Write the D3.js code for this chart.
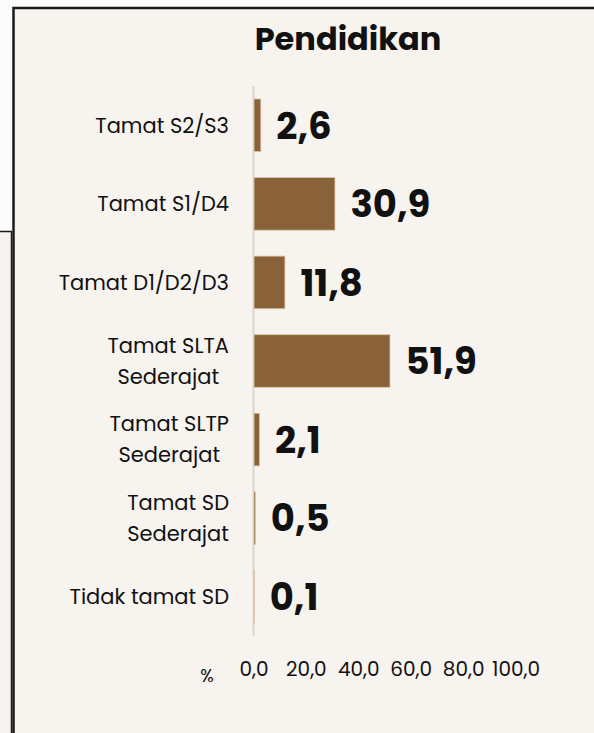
<!DOCTYPE html>
<html>
<head>
<meta charset="utf-8">
<script src="https://cdn.jsdelivr.net/npm/d3@7"></script>
<style>
  html, body { margin: 0; padding: 0; background: #fbfbfb; }
  svg { display: block; }
  text { font-family: Poppins, Inter, 'Noto Sans', sans-serif; fill: #111; }
</style>
</head>
<body>
<svg id="chart"></svg>
<script>
const WIDTH = 594;
const HEIGHT = 733;

const categories = [
  'Tamat S2/S3',
  'Tamat S1/D4',
  'Tamat D1/D2/D3',
  'Tamat SLTA\nSederajat',
  'Tamat SLTP\nSederajat',
  'Tamat SD\nSederajat',
  'Tidak tamat SD'
];
const values = [2.6, 30.9, 11.8, 51.9, 2.1, 0.5, 0.1];
const tickValues = [0, 20, 40, 60, 80, 100];

const fmt = v => d3.format('.1f')(v).replace('.', ',');

const svg = d3.select('#chart')
  .attr('width', WIDTH)
  .attr('height', HEIGHT);

// box peeking out behind the panel
svg.append('rect')
  .attr('x', -10).attr('y', 231.5)
  .attr('width', 21.5).attr('height', 600)
  .attr('fill', '#f7f3ef')
  .attr('stroke', '#1a1a1a').attr('stroke-width', 1.5);

// main panel
svg.append('rect')
  .attr('x', 13.5).attr('y', 8)
  .attr('width', 700).attr('height', 800)
  .attr('fill', '#f7f3ef')
  .attr('stroke', '#1a1a1a').attr('stroke-width', 2.5);

svg.append('text')
  .attr('x', 348).attr('y', 50)
  .attr('text-anchor', 'middle')
  .style('font-size', '32px')
  .style('font-weight', 700)
  .text('Pendidikan');

const x = d3.scaleLinear().domain([0, 100]).range([253.5, 515.5]);
const y = d3.scaleBand().domain(categories).range([86, 636])
  .paddingInner(0.33).paddingOuter(0.165);

// vertical axis line
svg.append('line')
  .attr('x1', x(0)).attr('x2', x(0))
  .attr('y1', 86).attr('y2', 636)
  .attr('stroke', '#d9d6d2').attr('stroke-width', 2);

svg.selectAll('.bar')
  .data(values)
  .join('rect')
  .attr('class', 'bar')
  .attr('x', x(0) + 0.5)
  .attr('y', (d, i) => y(categories[i]))
  .attr('width', d => x(d) - x(0))
  .attr('height', y.bandwidth())
  .attr('fill', '#8a6239')
  .attr('stroke', '#dcc6a8')
  .attr('stroke-width', 0.8);

svg.selectAll('.value')
  .data(values)
  .join('text')
  .attr('class', 'value')
  .attr('x', d => x(d) + 16)
  .attr('y', (d, i) => y(categories[i]) + y.bandwidth() / 2)
  .attr('dy', '0.36em')
  .style('font-size', '37px')
  .style('font-weight', 700)
  .text(fmt);

// category labels, lines centred on each other, block right-aligned
const labelRight = 229;
categories.forEach(cat => {
  const lines = cat.split('\n');
  const cy = y(cat) + y.bandwidth() / 2;
  const g = svg.append('g');
  const lh = 31;
  const texts = lines.map((ln, j) =>
    g.append('text')
      .attr('y', cy + (j - (lines.length - 1) / 2) * lh)
      .attr('dy', '0.35em')
      .attr('text-anchor', 'middle')
      .style('font-size', '21px')
      .text(ln));
  const maxW = d3.max(texts, t => t.node().getComputedTextLength());
  texts.forEach(t => t.attr('x', labelRight - maxW / 2));
});

// x axis tick labels
const xAxis = d3.axisBottom(x)
  .tickValues(tickValues)
  .tickFormat(fmt)
  .tickSize(0)
  .tickPadding(0);
const ax = svg.append('g')
  .attr('transform', 'translate(0,662)')
  .call(xAxis);
ax.select('.domain').remove();
ax.selectAll('text')
  .style('font-size', '20px')
  .style('font-family', 'Poppins, Inter, "Noto Sans", sans-serif')
  .attr('fill', '#111');

svg.append('text')
  .attr('x', 207).attr('y', 682)
  .attr('text-anchor', 'middle')
  .style('font-size', '18px')
  .text('%');
</script>
</body>
</html>
